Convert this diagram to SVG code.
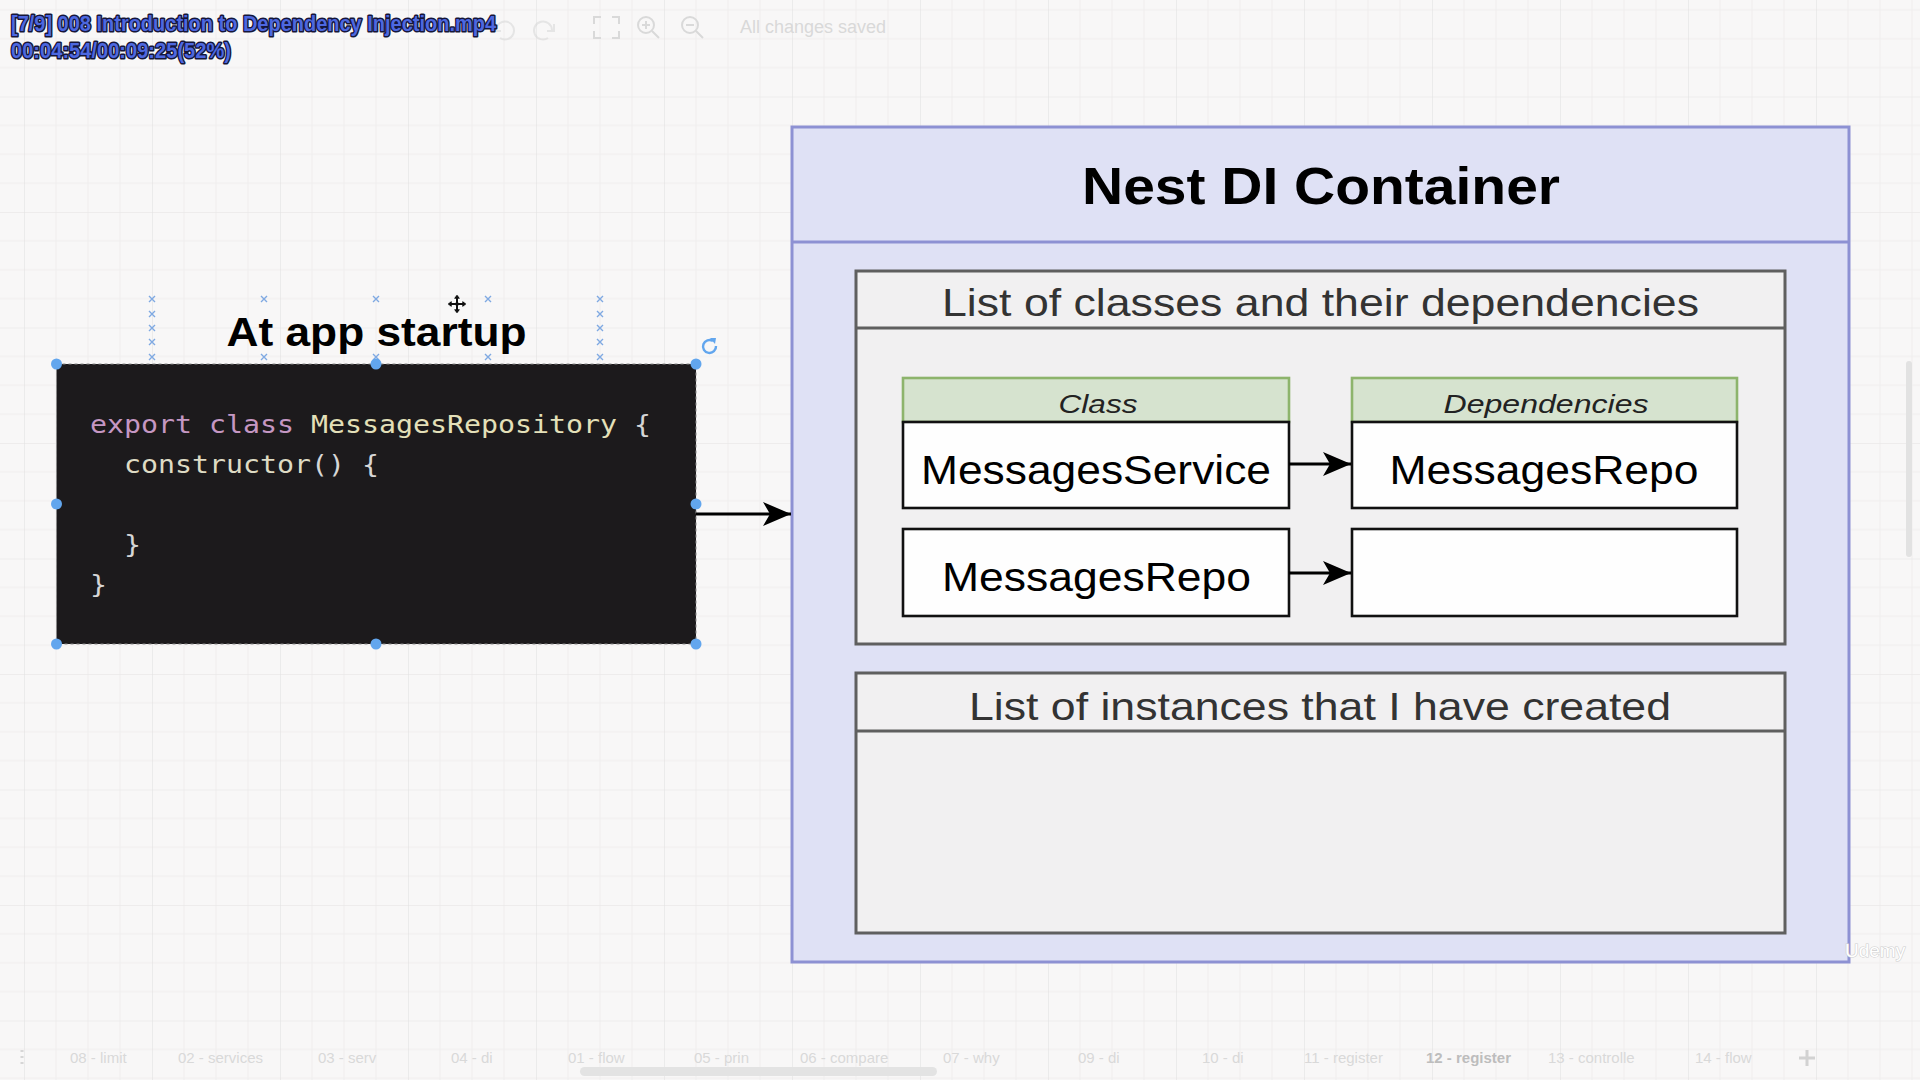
<svg xmlns="http://www.w3.org/2000/svg" width="1920" height="1080" viewBox="0 0 1920 1080">
  <defs>
    <pattern id="grid" patternUnits="userSpaceOnUse" x="24" y="96.5" width="128" height="115.5">
      <path d="M32 0V115.5M64 0V115.5M96 0V115.5M0 28.9H128M0 57.75H128M0 86.6H128" stroke="#efeeee" stroke-width="1" fill="none"/>
      <path d="M0 0V115.5M0 0H128" stroke="#e3e2e2" stroke-width="1.2" fill="none"/>
    </pattern>
    <marker id="arrow" markerUnits="userSpaceOnUse" viewBox="-30 -13 31 26" refX="0" refY="0" markerWidth="31" markerHeight="26" orient="auto">
      <path d="M0 0L-28 -12L-21 0L-28 12Z" fill="#000"/>
    </marker>
  </defs>
  <style>
    .sans { font-family: "Liberation Sans", Arial, sans-serif; }
    .mono { font-family: "DejaVu Sans Mono", "Liberation Mono", monospace; font-size: 24px; }
    .ui { font-family: "Liberation Sans", Arial, sans-serif; font-size: 15px; fill: #d9d9d9; }
    .panel { fill: #f1f0f1; stroke: #5f5f5f; stroke-width: 3; }
    .divider { stroke: #5f5f5f; stroke-width: 3; }
    .cell { fill: #fefefe; stroke: #111; stroke-width: 2.6; }
    .colhead { fill: #d6e3cf; stroke: #8db46c; stroke-width: 2.6; }
    .celltext { font-size: 40px; fill: #000; text-anchor: middle; }
    .headtext { font-size: 25px; font-style: italic; fill: #222; text-anchor: middle; }
    .paneltitle { font-size: 39px; fill: #333; text-anchor: middle; }
    .handle { fill: #62a6ee; }
    .guide { stroke: #7fa9e2; stroke-width: 1.4; }
    .link { stroke: #000; stroke-width: 3; fill: none; }
    .kw { fill: #c597c3; }
    .cls { fill: #e4e0b9; }
    .fn { fill: #dedbc4; }
    .punc { fill: #d6d6d6; }
    .icon { stroke: #d9d9d9; stroke-width: 2; fill: none; }
  </style>

  <!-- canvas -->
  <rect width="1920" height="1080" fill="#f8f7f7"/>
  <rect width="1920" height="1080" fill="url(#grid)"/>

  <!-- toolbar -->
  <g id="toolbar">
    <path class="icon" d="M496 30a9 9 0 1 1 4 8M494 24v7h7" opacity="0.6"/>
    <path class="icon" d="M552 30a9 9 0 1 0 -4 8M554 24v7h-7" opacity="0.6"/>
    <path class="icon" d="M594 24v-7h7M612 17h7v7M619 31v7h-7M601 38h-7v-7"/>
    <circle class="icon" cx="646" cy="25" r="8"/>
    <path class="icon" d="M652 31l7 7M642 25h8M646 21v8"/>
    <circle class="icon" cx="690" cy="25" r="8"/>
    <path class="icon" d="M696 31l7 7M686 25h8"/>
    <text class="ui" x="740" y="33" style="font-size:18px">All changes saved</text>
  </g>

  <!-- video overlay caption -->
  <g id="caption" class="sans" font-weight="bold" font-size="22" fill="#4d68e0" stroke="#15163a" stroke-width="3" paint-order="stroke" stroke-linejoin="round">
    <text x="11" y="31" textLength="485" lengthAdjust="spacingAndGlyphs">[7/9] 008 Introduction to Dependency Injection.mp4</text>
    <text x="11" y="58" textLength="220" lengthAdjust="spacingAndGlyphs">00:04:54/00:09:25(52%)</text>
  </g>

  <!-- startup code snippet -->
  <g id="startup">
    <text class="sans" x="376.5" y="346" font-size="40" font-weight="bold" text-anchor="middle" textLength="300" lengthAdjust="spacingAndGlyphs" fill="#000">At app startup</text>
    <rect x="56.5" y="364" width="639.5" height="280" fill="#1c1a1c" stroke="#8a8a8a" stroke-width="1" stroke-dasharray="3 3"/>
    <g class="mono" transform="translate(90 0) scale(1.177 1)">
      <text x="0" y="433"><tspan class="kw">export class </tspan><tspan class="cls">MessagesRepository</tspan><tspan class="punc"> {</tspan></text>
      <text x="28.9" y="473"><tspan class="fn">constructor</tspan><tspan class="punc">() {</tspan></text>
      <text x="28.9" y="553" class="punc">}</text>
      <text x="0" y="593" class="punc">}</text>
    </g>
  </g>

  <!-- selection decorations around the snippet -->
  <g id="selection">
    <g class="guide">
      <path d="M149 296l6 6M155 296l-6 6M149 311l6 6M155 311l-6 6M149 325l6 6M155 325l-6 6M149 339l6 6M155 339l-6 6M149 354l6 6M155 354l-6 6"/>
      <path d="M597 296l6 6M603 296l-6 6M597 311l6 6M603 311l-6 6M597 325l6 6M603 325l-6 6M597 339l6 6M603 339l-6 6M597 354l6 6M603 354l-6 6"/>
      <path d="M261 296l6 6M267 296l-6 6M261 354l6 6M267 354l-6 6"/>
      <path d="M373 296l6 6M379 296l-6 6M373 354l6 6M379 354l-6 6"/>
      <path d="M485 296l6 6M491 296l-6 6M485 354l6 6M491 354l-6 6"/>
    </g>
    <circle class="handle" cx="56.5" cy="364" r="5.5"/>
    <circle class="handle" cx="376" cy="364" r="5.5"/>
    <circle class="handle" cx="696" cy="364" r="5.5"/>
    <circle class="handle" cx="56.5" cy="504" r="5.5"/>
    <circle class="handle" cx="696" cy="504" r="5.5"/>
    <circle class="handle" cx="56.5" cy="644" r="5.5"/>
    <circle class="handle" cx="376" cy="644" r="5.5"/>
    <circle class="handle" cx="696" cy="644" r="5.5"/>
    <!-- rotate handle -->
    <path d="M716 346a6.5 6.5 0 1 1 -3 -5" fill="none" stroke="#62a6ee" stroke-width="2.4"/>
    <path d="M710 338l6 0l-1 6z" fill="#62a6ee"/>
    <!-- move cursor -->
    <path d="M457 294l4 5h-2.5v3.5h3.5v-2.5l5 4l-5 4v-2.5h-3.5v3.5h2.5l-4 5l-4-5h2.5v-3.5h-3.5v2.5l-5-4l5-4v2.5h3.5v-3.5h-2.5z" fill="#111" stroke="#fff" stroke-width="1"/>
  </g>

  <!-- DI container -->
  <g id="container">
    <rect x="792" y="127" width="1057" height="835" fill="#dfe1f5" stroke="#8d91d3" stroke-width="3"/>
    <line x1="792" y1="242" x2="1849" y2="242" stroke="#8d91d3" stroke-width="3"/>
    <text class="sans" x="1321" y="204" font-size="52" font-weight="bold" text-anchor="middle" textLength="478" lengthAdjust="spacingAndGlyphs" fill="#000">Nest DI Container</text>
  </g>

  <g id="class-list">
    <rect class="panel" x="856" y="271" width="929" height="373"/>
    <line class="divider" x1="856" y1="328" x2="1785" y2="328"/>
    <text class="sans paneltitle" x="1320.5" y="316" textLength="757" lengthAdjust="spacingAndGlyphs">List of classes and their dependencies</text>
  </g>

  <g id="class-header">
    <rect class="colhead" x="903" y="378" width="386" height="44"/>
    <text class="sans headtext" x="1098" y="413" textLength="79" lengthAdjust="spacingAndGlyphs">Class</text>
  </g>
  <g id="deps-header">
    <rect class="colhead" x="1352" y="378" width="385" height="44"/>
    <text class="sans headtext" x="1546" y="413" textLength="205" lengthAdjust="spacingAndGlyphs">Dependencies</text>
  </g>
  <g id="messages-service">
    <rect class="cell" x="903" y="422" width="386" height="86"/>
    <text class="sans celltext" x="1096" y="484" textLength="350" lengthAdjust="spacingAndGlyphs">MessagesService</text>
  </g>
  <g id="service-dep">
    <rect class="cell" x="1352" y="422" width="385" height="86"/>
    <text class="sans celltext" x="1544" y="484" textLength="309" lengthAdjust="spacingAndGlyphs">MessagesRepo</text>
  </g>
  <g id="messages-repo">
    <rect class="cell" x="903" y="529" width="386" height="87"/>
    <text class="sans celltext" x="1096.5" y="591" textLength="309" lengthAdjust="spacingAndGlyphs">MessagesRepo</text>
  </g>
  <g id="repo-dep">
    <rect class="cell" x="1352" y="529" width="385" height="87"/>
  </g>

  <g id="instance-list">
    <rect class="panel" x="856" y="673" width="929" height="260"/>
    <line class="divider" x1="856" y1="731" x2="1785" y2="731"/>
    <text class="sans paneltitle" x="1320" y="720" textLength="702" lengthAdjust="spacingAndGlyphs">List of instances that I have created</text>
  </g>

  <!-- connectors -->
  <g id="connectors">
    <line class="link" x1="696" y1="514" x2="791" y2="514" marker-end="url(#arrow)"/>
    <line class="link" x1="1289" y1="464" x2="1351" y2="464" marker-end="url(#arrow)"/>
    <line class="link" x1="1289" y1="573" x2="1351" y2="573" marker-end="url(#arrow)"/>
  </g>

  <!-- editor chrome: scrollbars, page tabs, watermark -->
  <g id="chrome">
    <rect x="1906" y="361" width="6" height="196" rx="3" fill="#e2e2e2"/>
    <rect x="580" y="1067" width="357" height="9" rx="4.5" fill="#e3e3e3"/>
    <path d="M22 1050v2M22 1056v2M22 1062v2" stroke="#d6d6d6" stroke-width="3"/>
    <text class="ui" x="70" y="1063">08 - limit</text>
    <text class="ui" x="178" y="1063">02 - services</text>
    <text class="ui" x="318" y="1063">03 - serv</text>
    <text class="ui" x="451" y="1063">04 - di</text>
    <text class="ui" x="568" y="1063">01 - flow</text>
    <text class="ui" x="694" y="1063">05 - prin</text>
    <text class="ui" x="800" y="1063">06 - compare</text>
    <text class="ui" x="943" y="1063">07 - why</text>
    <text class="ui" x="1078" y="1063">09 - di</text>
    <text class="ui" x="1202" y="1063">10 - di</text>
    <text class="ui" x="1304" y="1063">11 - register</text>
    <text class="ui" x="1426" y="1063" font-weight="bold" style="fill:#bdbdbd">12 - register</text>
    <text class="ui" x="1548" y="1063">13 - controlle</text>
    <text class="ui" x="1695" y="1063">14 - flow</text>
    <path d="M1807 1050v16M1799 1058h16" stroke="#d2d2d2" stroke-width="3"/>
    <text class="sans" x="1845" y="957" font-size="19" fill="#ffffff" stroke="#cfcfcf" stroke-width="1.2" paint-order="stroke">Udemy</text>
  </g>
</svg>
